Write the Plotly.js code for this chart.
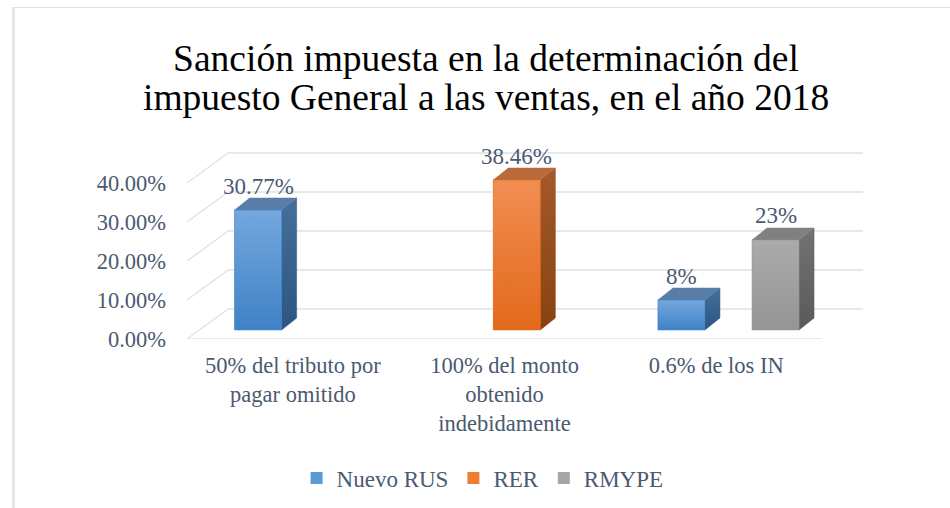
<!DOCTYPE html>
<html>
<head>
<meta charset="utf-8">
<script src="https://cdn.plot.ly/plotly-3.0.1.min.js"></script>
<style>html,body{margin:0;padding:0;background:#fff;}#chart{width:950px;height:508px;}</style>
</head>
<body>
<div id="chart"></div>
<script>
// ---- data ----
const titleLines = ['Sanción impuesta en la determinación del', 'impuesto General a las ventas, en el año 2018'];
const categories = ['50% del tributo por<br>pagar omitido', '100% del monto<br>obtenido<br>indebidamente', '0.6% de los IN'];
const seriesNames = ['Nuevo RUS', 'RER', 'RMYPE'];
const nuevoRUS = [0.3077, null, 0.0769];
const rer = [null, 0.3846, null];
const rmype = [null, null, 0.2308];
const labelsNuevoRUS = ['30.77%', null, '8%'];
const labelsRER = [null, '38.46%', null];
const labelsRMYPE = [null, null, '23%'];
const yTicks = [0, 0.1, 0.2, 0.3, 0.4];

// ---- styling / geometry ----
const W = 950, H = 508;
const M = {l: 187, r: 86, t: 130, b: 169};
const plotW = W - M.l - M.r, plotH = H - M.t - M.b;
const pxX = 211.67;            // px per category unit
const pxY = 390;               // px per 1.0 (100%)
const xMin = -0.5, xMax = xMin + plotW / pxX;
const yMax = plotH / pxY;
const bx = 41 / pxX, by = 30 / pxY;      // back wall offset
const fx = 12.3 / pxX, fy = 9 / pxY;     // bar front plane offset
const dX = 15 / pxX, dY = 12 / pxY;      // bar depth
const bargap = 0.3333;
const barW = (1 - bargap) / 3;
const textColor = '#4a5a70';
const gridColor = '#dde1e7';
const font = '"Liberation Serif", "Times New Roman", Times, serif';

const seriesVals = [nuevoRUS, rer, rmype];
const seriesLabels = [labelsNuevoRUS, labelsRER, labelsRMYPE];
const legendColors = ['#5b9bd5', '#ed7d31', '#a5a5a5'];
const frontGrad = [['#3f82c6', '#74a7de'], ['#e2691b', '#f28d52'], ['#959595', '#ababab']];
const sideGrad = [['#2b5682', '#466f9a'], ['#88420f', '#a4592a'], ['#5a5a5a', '#727272']];
const topColor = ['#587ea7', '#b86a3b', '#808080'];

const px2paperX = p => (p - M.l) / plotW;
const px2paperY = p => (H - M.b - p) / plotH;

const traces = [];
// back wall gridlines and left wall diagonals
const gx = [], gy = [];
yTicks.forEach(v => {
  gx.push(xMin + bx, categories.length - 0.5 + bx, null);
  gy.push(v + by, v + by, null);
  gx.push(xMin, xMin + bx, null);
  gy.push(v, v + by, null);
});
// front floor edge
gx.push(xMin, categories.length - 0.5, null);
gy.push(0, 0, null);
traces.push({type: 'scatter', mode: 'lines', x: gx, y: gy, line: {color: gridColor, width: 1.3},
  hoverinfo: 'skip', showlegend: false});

// legend-bearing bar traces (front faces)
seriesNames.forEach((name, s) => {
  traces.push({type: 'bar', name: name, x: categories.map((c, i) => i + fx), y: seriesVals[s],
    base: fy, marker: {color: legendColors[s], line: {width: 0}}, hoverinfo: 'skip'});
});

// 3D faces
const annotations = [];
seriesNames.forEach((name, s) => {
  seriesVals[s].forEach((v, i) => {
    if (v === null) return;
    const xc = i + fx + (s - 1) * barW;
    const x0 = xc - barW / 2, x1 = xc + barW / 2;
    const yb = fy, yt = fy + v;
    traces.push({type: 'scatter', mode: 'lines', fill: 'toself', showlegend: false, hoverinfo: 'skip',
      x: [x1, x1 + dX, x1 + dX, x1, x1], y: [yb, yb + dY, yt + dY, yt, yb],
      line: {width: 0.5, color: sideGrad[s][0]},
      fillgradient: {type: 'vertical', colorscale: [[0, sideGrad[s][0]], [1, sideGrad[s][1]]]}});
    traces.push({type: 'scatter', mode: 'lines', fill: 'toself', showlegend: false, hoverinfo: 'skip',
      x: [x0, x1, x1 + dX, x0 + dX, x0], y: [yt, yt, yt + dY, yt + dY, yt],
      line: {width: 0.5, color: topColor[s]}, fillcolor: topColor[s]});
    traces.push({type: 'scatter', mode: 'lines', fill: 'toself', showlegend: false, hoverinfo: 'skip',
      x: [x0, x1, x1, x0, x0], y: [yb, yb, yt, yt, yb],
      line: {width: 0.5, color: frontGrad[s][0]},
      fillgradient: {type: 'vertical', colorscale: [[0, frontGrad[s][0]], [1, frontGrad[s][1]]]}});
    annotations.push({x: xc, y: yt, xref: 'x', yref: 'y', text: seriesLabels[s][i], showarrow: false,
      yshift: 24, font: {family: font, size: 23, color: textColor}});
  });
});

// second title line
annotations.push({xref: 'paper', yref: 'paper', x: px2paperX(486), y: px2paperY(97), xanchor: 'center', yanchor: 'middle',
  text: titleLines[1], showarrow: false, font: {family: font, size: 37.5, color: '#000000'}});

const layout = {
  width: W, height: H,
  margin: M,
  paper_bgcolor: '#ffffff', plot_bgcolor: 'rgba(0,0,0,0)',
  barmode: 'group', bargap: bargap, bargroupgap: 0,
  title: {text: titleLines[0],
    font: {family: font, size: 37.5, color: '#000000'}, x: 486 / W, xanchor: 'center',
    xref: 'container', yref: 'container', y: 1 - 58 / H, yanchor: 'middle'},
  xaxis: {range: [xMin, xMax], tickvals: categories.map((c, i) => i), ticktext: categories,
    showgrid: false, zeroline: false, showline: false, ticks: '', ticklabelstandoff: 10,
    tickfont: {family: font, size: 22.5, color: textColor}, fixedrange: true},
  yaxis: {range: [0, yMax], tickvals: yTicks, tickformat: '.2%', showgrid: false, zeroline: false,
    showline: false, ticks: '', ticklabelstandoff: 20,
    tickfont: {family: font, size: 22.5, color: textColor}, fixedrange: true},
  legend: {orientation: 'h', x: 0.508, xref: 'container', xanchor: 'center', y: 1 - 478 / H, yref: 'container',
    yanchor: 'middle', font: {family: font, size: 23, color: textColor}, itemwidth: 30, itemclick: false},
  annotations: annotations,
  shapes: [
    {type: 'line', xref: 'paper', yref: 'paper', x0: px2paperX(13.5), x1: px2paperX(13.5), y0: px2paperY(7), y1: px2paperY(H + 5),
      line: {color: '#dde1e8', width: 2.5}},
    {type: 'line', xref: 'paper', yref: 'paper', x0: px2paperX(13), x1: px2paperX(W + 5), y0: px2paperY(7.5), y1: px2paperY(7.5),
      line: {color: '#dde1e8', width: 1.2}}
  ],
  showlegend: true,
  hovermode: false
};

Plotly.newPlot('chart', traces, layout, {displayModeBar: false, staticPlot: true});
</script>
</body>
</html>
